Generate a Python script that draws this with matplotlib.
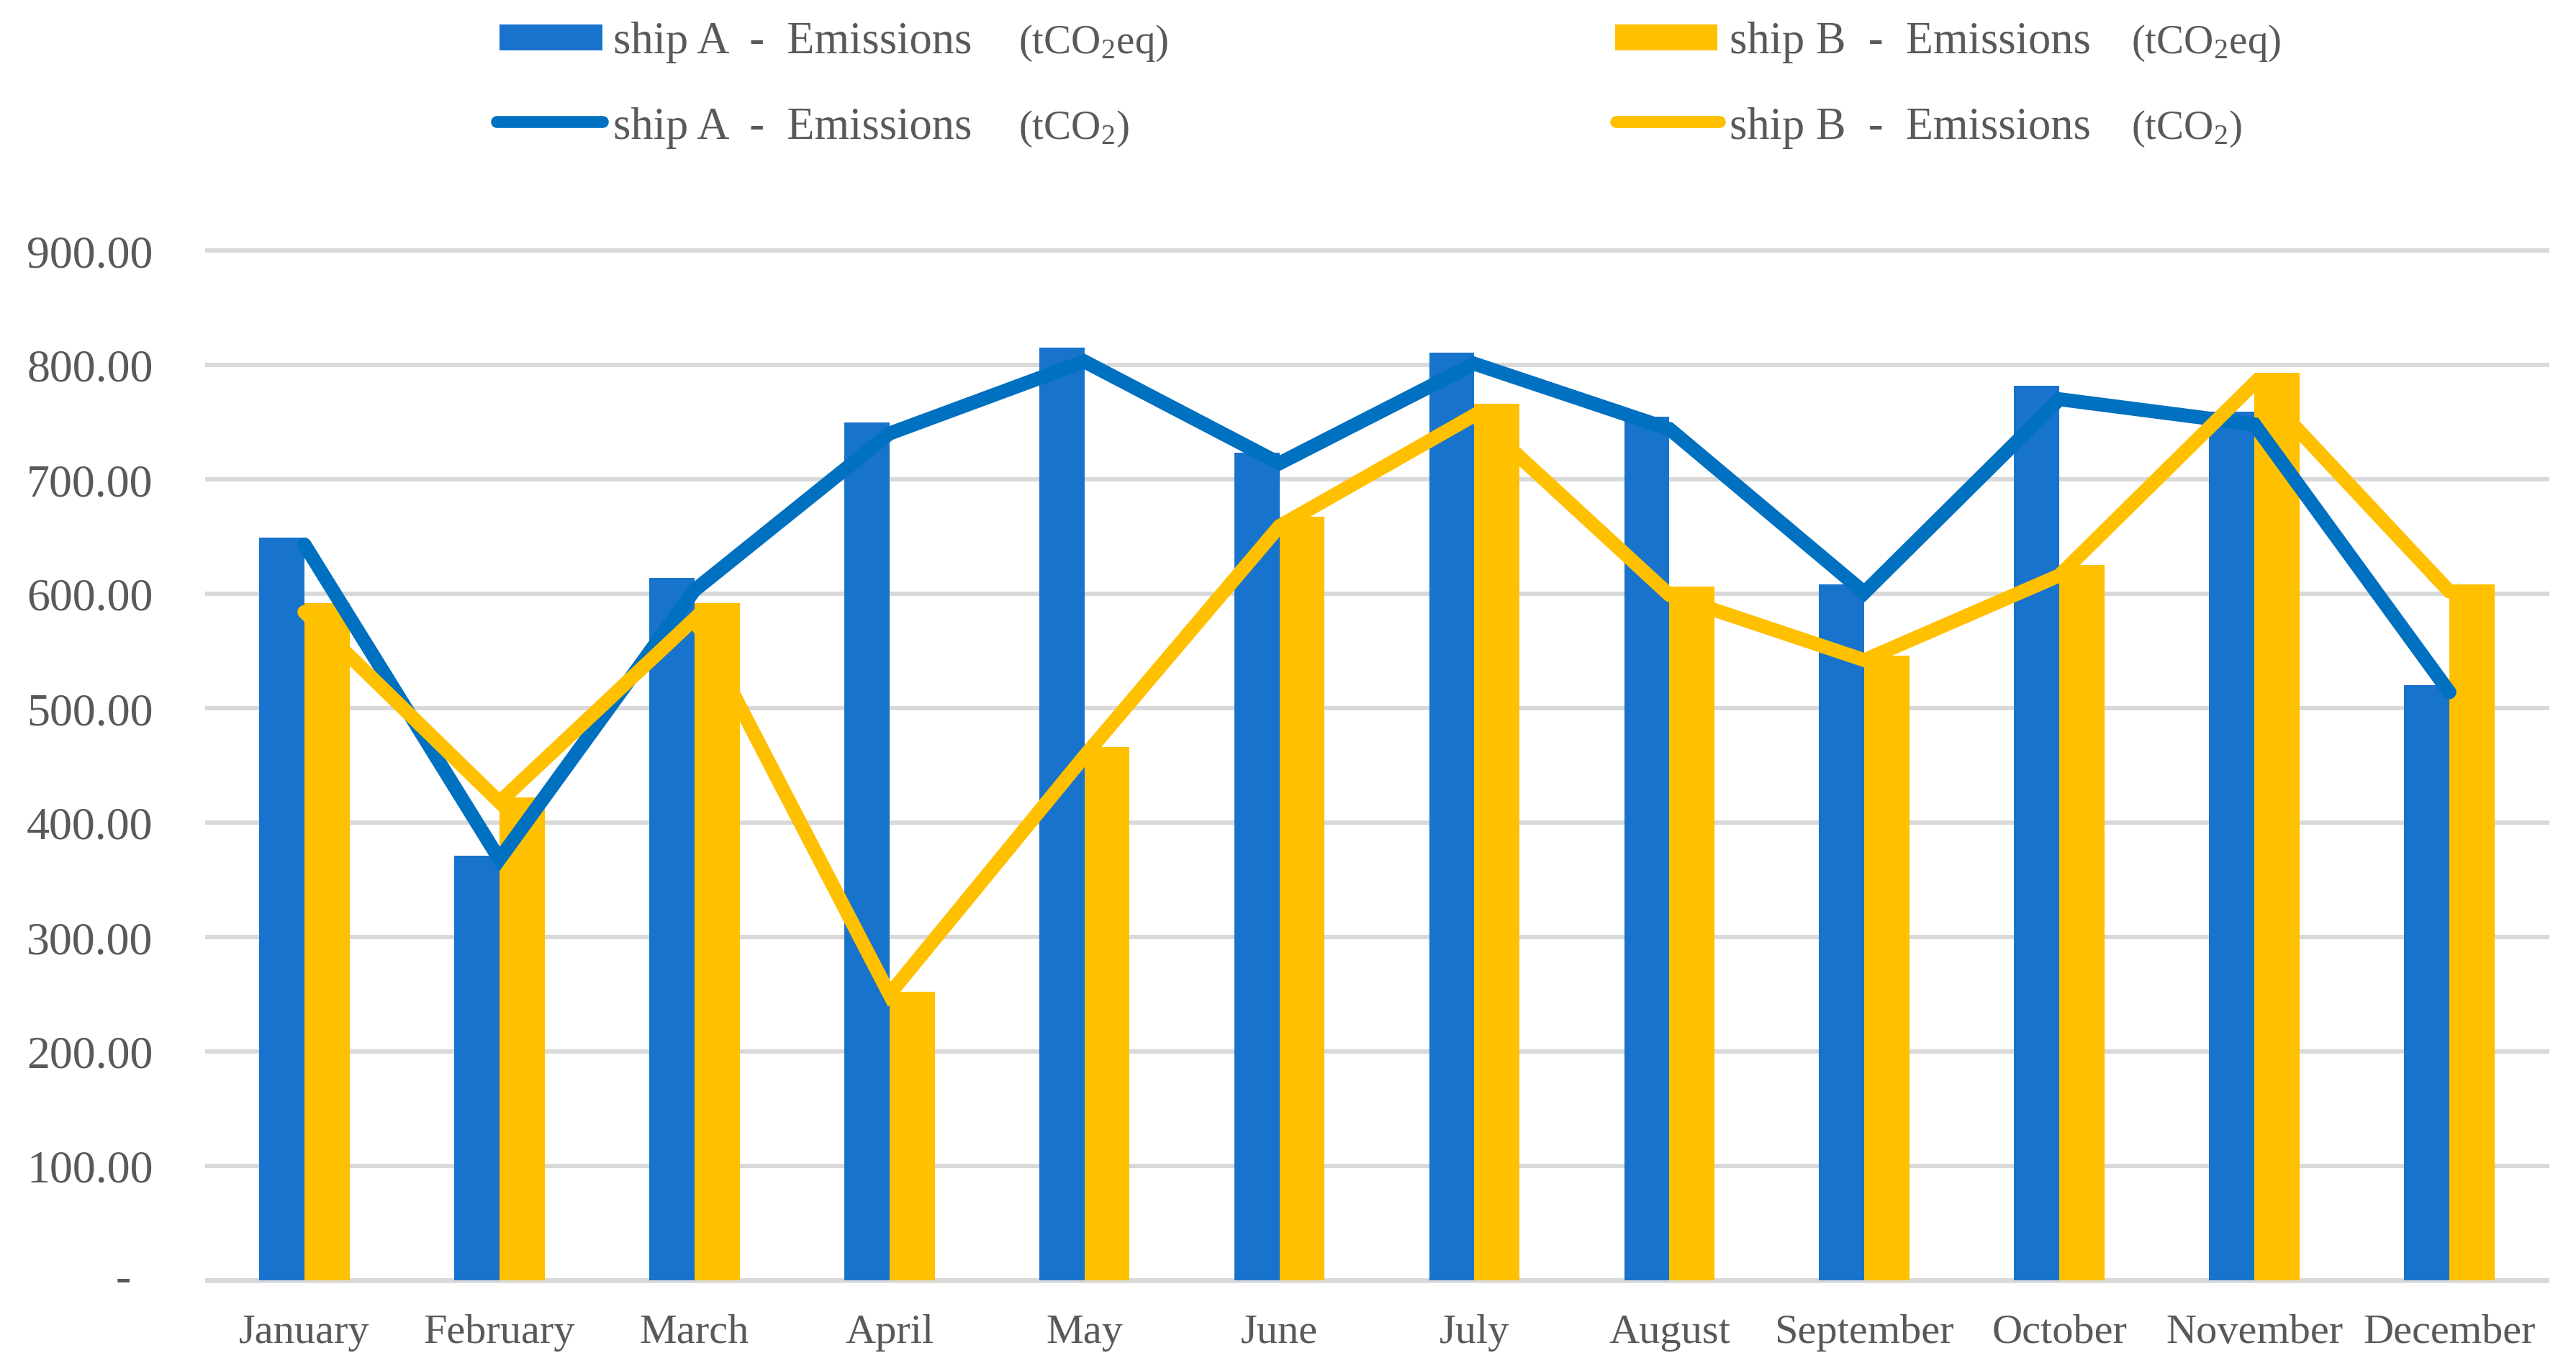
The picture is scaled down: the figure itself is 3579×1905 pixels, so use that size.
import matplotlib
matplotlib.use("Agg")
import matplotlib.pyplot as plt
import numpy as np
from matplotlib.patches import Rectangle
from matplotlib.lines import Line2D

months = ["January", "February", "March", "April", "May", "June", "July",
          "August", "September", "October", "November", "December"]
shipA_eq = [649, 371, 614, 750, 815, 723, 811, 755, 608, 782, 759, 520]
shipB_eq = [592, 422, 592, 252, 466, 667, 766, 606, 546, 625, 793, 608]
shipA_co2 = [643, 368, 603, 740, 803, 714, 801, 744, 601, 770, 748, 514]
shipB_co2 = [584, 418, 578, 250, 458, 659, 756, 599, 542, 616, 784, 602]
yticks = [0, 100, 200, 300, 400, 500, 600, 700, 800, 900]

BAR_BLUE = "#1873CC"
LINE_BLUE = "#0070C0"
YELLOW = "#FFC000"
GRID = "#D9D9D9"
TXT = "#595959"

plt.rcParams["font.family"] = ["Liberation Serif", "DejaVu Serif"]
plt.rcParams["mathtext.fontset"] = "custom"
plt.rcParams["mathtext.rm"] = "Liberation Serif"
plt.rcParams["mathtext.it"] = "Liberation Serif:italic"

W, H = 3579, 1906
fig = plt.figure(figsize=(W / 100, H / 100), dpi=100)
left, right = 287.5 / W, 3538.5 / W
bottom, top = 1 - 1780 / H, 1 - 349 / H
ax = fig.add_axes([left, bottom, right - left, top - bottom])

x = np.arange(len(months))
bw = 0.232
ax.bar(x - bw / 2, shipA_eq, width=bw, color=BAR_BLUE, zorder=2)
ax.bar(x + bw / 2, shipB_eq, width=bw, color=YELLOW, zorder=2)
ax.plot(x, shipA_co2, color=LINE_BLUE, lw=14, solid_capstyle="round",
        solid_joinstyle="miter", zorder=3)
ax.plot(x, shipB_co2, color=YELLOW, lw=14, solid_capstyle="round",
        solid_joinstyle="miter", zorder=4)

ax.set_xlim(-0.5, len(months) - 0.5)
ax.set_ylim(0, 900)
ax.set_yticks(yticks)
ax.set_yticklabels([f"{v:.2f}" if v else "" for v in yticks])
ax.set_xticks(x)
ax.set_xticklabels(months)
ax.tick_params(axis="y", length=0, pad=54, labelsize=46, labelcolor=TXT)
ax.tick_params(axis="x", length=0, pad=33, labelsize=42, labelcolor=TXT)
ax.annotate("-", xy=(0, 0), xycoords=ax.get_yaxis_transform(),
            xytext=(-76, 0), textcoords="offset points", ha="right",
            va="center", fontsize=46, color=TXT)

ax.grid(axis="y", color=GRID, lw=4.3, zorder=0)
ax.set_axisbelow(True)
for gl in ax.get_ygridlines():
    gl.set_clip_on(False)
for s in ["top", "left", "right"]:
    ax.spines[s].set_visible(False)
ax.spines["bottom"].set_color(GRID)
ax.spines["bottom"].set_linewidth(4.8)
ax.spines["bottom"].set_zorder(1)

# Legend (figure pixel coordinates)
def fx(px):
    return px / W

def fy(py):
    return 1 - py / H

entries = [
    ("bar", BAR_BLUE, 694, 837, 53, 852, 1415, "ship A  -  Emissions", "(tCO$_{\\mathregular{2}}$eq)", 74),
    ("bar", YELLOW, 2244, 2386, 53, 2403, 2961, "ship B  -  Emissions", "(tCO$_{\\mathregular{2}}$eq)", 74),
    ("line", LINE_BLUE, 690, 837, 170, 852, 1415, "ship A  -  Emissions", "(tCO$_{\\mathregular{2}}$)", 193),
    ("line", YELLOW, 2245, 2389, 170, 2403, 2961, "ship B  -  Emissions", "(tCO$_{\\mathregular{2}}$)", 193),
]
for kind, col, x0, x1, yc, tx, px_, lab, unit, base in entries:
    if kind == "bar":
        fig.add_artist(Rectangle((fx(x0), fy(yc + 18)), fx(x1) - fx(x0),
                                 (36) / H, transform=fig.transFigure,
                                 color=col, lw=0))
    else:
        fig.add_artist(Line2D([fx(x0), fx(x1)], [fy(yc), fy(yc)],
                              transform=fig.transFigure, color=col, lw=12,
                              solid_capstyle="round"))
    fig.text(fx(tx), fy(base), lab, fontsize=45, color=TXT, ha="left",
             va="baseline")
    fig.text(fx(px_), fy(base), unit, fontsize=41, color=TXT, ha="left",
             va="baseline")

fig.savefig("out.png", dpi=100, facecolor="white")
